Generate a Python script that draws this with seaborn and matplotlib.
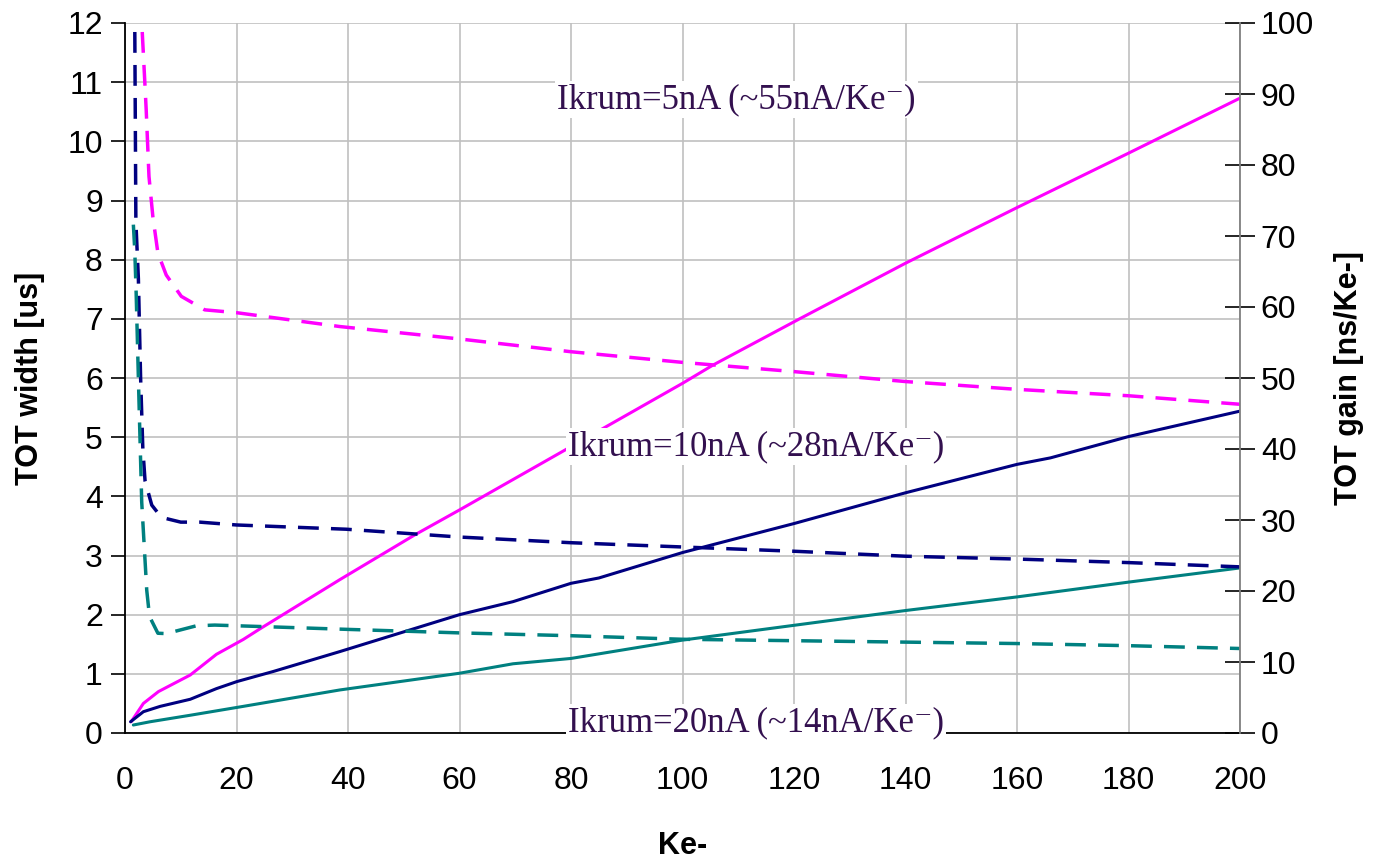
import numpy as np
import pandas as pd
import matplotlib
matplotlib.use("Agg")
import matplotlib.pyplot as plt
import seaborn as sns

# ---- data ----
# TOT width [us] (solid, left axis)
x_w5 = [1.1, 3.3, 6.0, 11.7, 16.4, 21.2, 24.2, 38.5, 52, 60, 80, 100, 105.5, 121, 140, 160, 180, 200]
y_w5 = [0.19, 0.50, 0.70, 0.98, 1.33, 1.58, 1.76, 2.59, 3.35, 3.77, 4.84, 5.91, 6.22, 7.00, 7.94, 8.88, 9.80, 10.73]

x_w10 = [1.0, 3.3, 6.3, 11.7, 16.4, 20.1, 26.6, 38.5, 60, 69.6, 80, 85, 100, 120, 140, 160, 166, 180, 200]
y_w10 = [0.19, 0.36, 0.45, 0.57, 0.75, 0.87, 1.04, 1.375, 2.00, 2.22, 2.53, 2.62, 3.05, 3.54, 4.06, 4.54, 4.65, 5.01, 5.44]

x_w20 = [1.5, 4.5, 11.7, 21.2, 38.5, 60, 69.6, 80, 100, 120, 140, 160, 180, 200]
y_w20 = [0.135, 0.19, 0.30, 0.45, 0.727, 1.01, 1.17, 1.26, 1.57, 1.82, 2.07, 2.30, 2.55, 2.79]

# TOT gain [ns/Ke-] (dashed, right axis)
x_g5 = [2.9, 3.1, 3.5, 3.8, 4.3, 5.0, 5.9, 7.4, 10.1, 14.3, 20, 38.5, 60, 80, 100, 120, 140, 160, 180, 200]
y_g5 = [105, 98.6, 92.5, 87.8, 78.4, 72.7, 67.6, 64.5, 61.5, 59.6, 59.2, 57.25, 55.5, 53.7, 52.2, 50.9, 49.5, 48.4, 47.5, 46.3]

x_g10 = [1.5, 1.75, 1.95, 2.4, 2.8, 3.2, 3.6, 4.8, 6.2, 7.4, 10, 13.4, 20, 39.7, 60, 80, 100, 120, 140, 160, 180, 200]
y_g10 = [110, 100, 72, 64, 50, 40, 35.5, 32.1, 30.7, 30.2, 29.7, 29.7, 29.3, 28.7, 27.6, 26.8, 26.2, 25.6, 24.9, 24.5, 24.0, 23.4]

x_g20 = [1.5, 1.75, 2.0, 2.5, 3.0, 3.9, 4.4, 5.9, 7.4, 12.8, 16.1, 24.2, 39.7, 60, 80, 100, 120, 140, 160, 180, 200]
y_g20 = [71.6, 68, 62, 47, 32.5, 20.1, 16.4, 14.05, 14.0, 15.1, 15.2, 15.0, 14.6, 14.1, 13.7, 13.2, 13.0, 12.8, 12.6, 12.3, 11.9]

labels = ["Ikrum=5nA (~55nA/Ke\u207b)", "Ikrum=10nA (~28nA/Ke\u207b)", "Ikrum=20nA (~14nA/Ke\u207b)"]
label_x = [77.5, 79.4, 79.4]
label_y = [10.7, 4.84, 0.17]

colors = ["#FF00FF", "#000080", "#008080"]

sns.set_style("white")
plt.rcParams["font.family"] = ["Liberation Sans", "DejaVu Sans"]
plt.rcParams["text.color"] = "black"
plt.rcParams["axes.labelcolor"] = "black"
plt.rcParams["xtick.color"] = "black"
plt.rcParams["ytick.color"] = "black"

fig = plt.figure(figsize=(13.84, 8.61), dpi=100)
ax = fig.add_axes([125 / 1384, 1 - 733 / 861, (1240 - 125) / 1384, (733 - 23) / 861])
ax2 = ax.twinx()

solid = [(x_w5, y_w5), (x_w10, y_w10), (x_w20, y_w20)]
dashed = [(x_g5, y_g5), (x_g10, y_g10), (x_g20, y_g20)]

for (xs, ys), c in zip(solid, colors):
    sns.lineplot(x=xs, y=ys, ax=ax, color=c, lw=2.2, estimator=None, sort=False)
for (xs, ys), c in zip(dashed, colors):
    sns.lineplot(x=xs, y=ys, ax=ax2, color=c, lw=2.5, estimator=None, sort=False,
                 linestyle=(0, (6, 3.5)))

ax.set_xlim(0, 200)
ax.set_ylim(0, 12)
ax2.set_ylim(0, 100)
ax.set_xticks(np.arange(0, 201, 20))
ax.set_yticks(np.arange(0, 13, 1))
ax2.set_yticks(np.arange(0, 101, 10))

ax.grid(True, color="#C0C0C0", lw=1.2)
ax.set_axisbelow(True)
ax2.grid(False)

for a in (ax, ax2):
    a.spines["top"].set_visible(False)
ax.spines["left"].set_color("black")
ax.spines["bottom"].set_color("black")
ax.spines["right"].set_visible(False)
ax2.spines["left"].set_visible(False)
ax2.spines["bottom"].set_visible(False)
ax2.spines["right"].set_color("#808080")
ax2.spines["right"].set_linewidth(1.3)
ax.spines["left"].set_linewidth(1.3)
ax.spines["bottom"].set_linewidth(1.3)

ax.tick_params(axis="x", direction="out", length=10, width=1.2, colors="black",
               labelsize=23, pad=14)
ax.tick_params(axis="y", direction="out", length=10, width=1.2, colors="black",
               labelsize=23, pad=6, left=True)
ax2.tick_params(axis="y", direction="inout", length=22, width=1.2, colors="black",
                labelsize=23, pad=4, right=True)

ax.set_xlabel("Ke-", fontsize=22, fontweight="bold", labelpad=25, color="black")
ax.set_ylabel("TOT width [us]", fontsize=22, fontweight="bold", labelpad=16, color="black")
ax2.set_ylabel("TOT gain [ns/Ke-]", fontsize=22, fontweight="bold", labelpad=14, color="black")

for t, lx, ly in zip(labels, label_x, label_y):
    ax2.text(lx, ly * 100 / 12, t, family=["Liberation Serif", "DejaVu Serif"], fontsize=25,
             color="#33104F", ha="left", va="center", zorder=20,
             bbox=dict(facecolor="white", edgecolor="none", pad=1.5))

fig.savefig("out.png", dpi=100)
